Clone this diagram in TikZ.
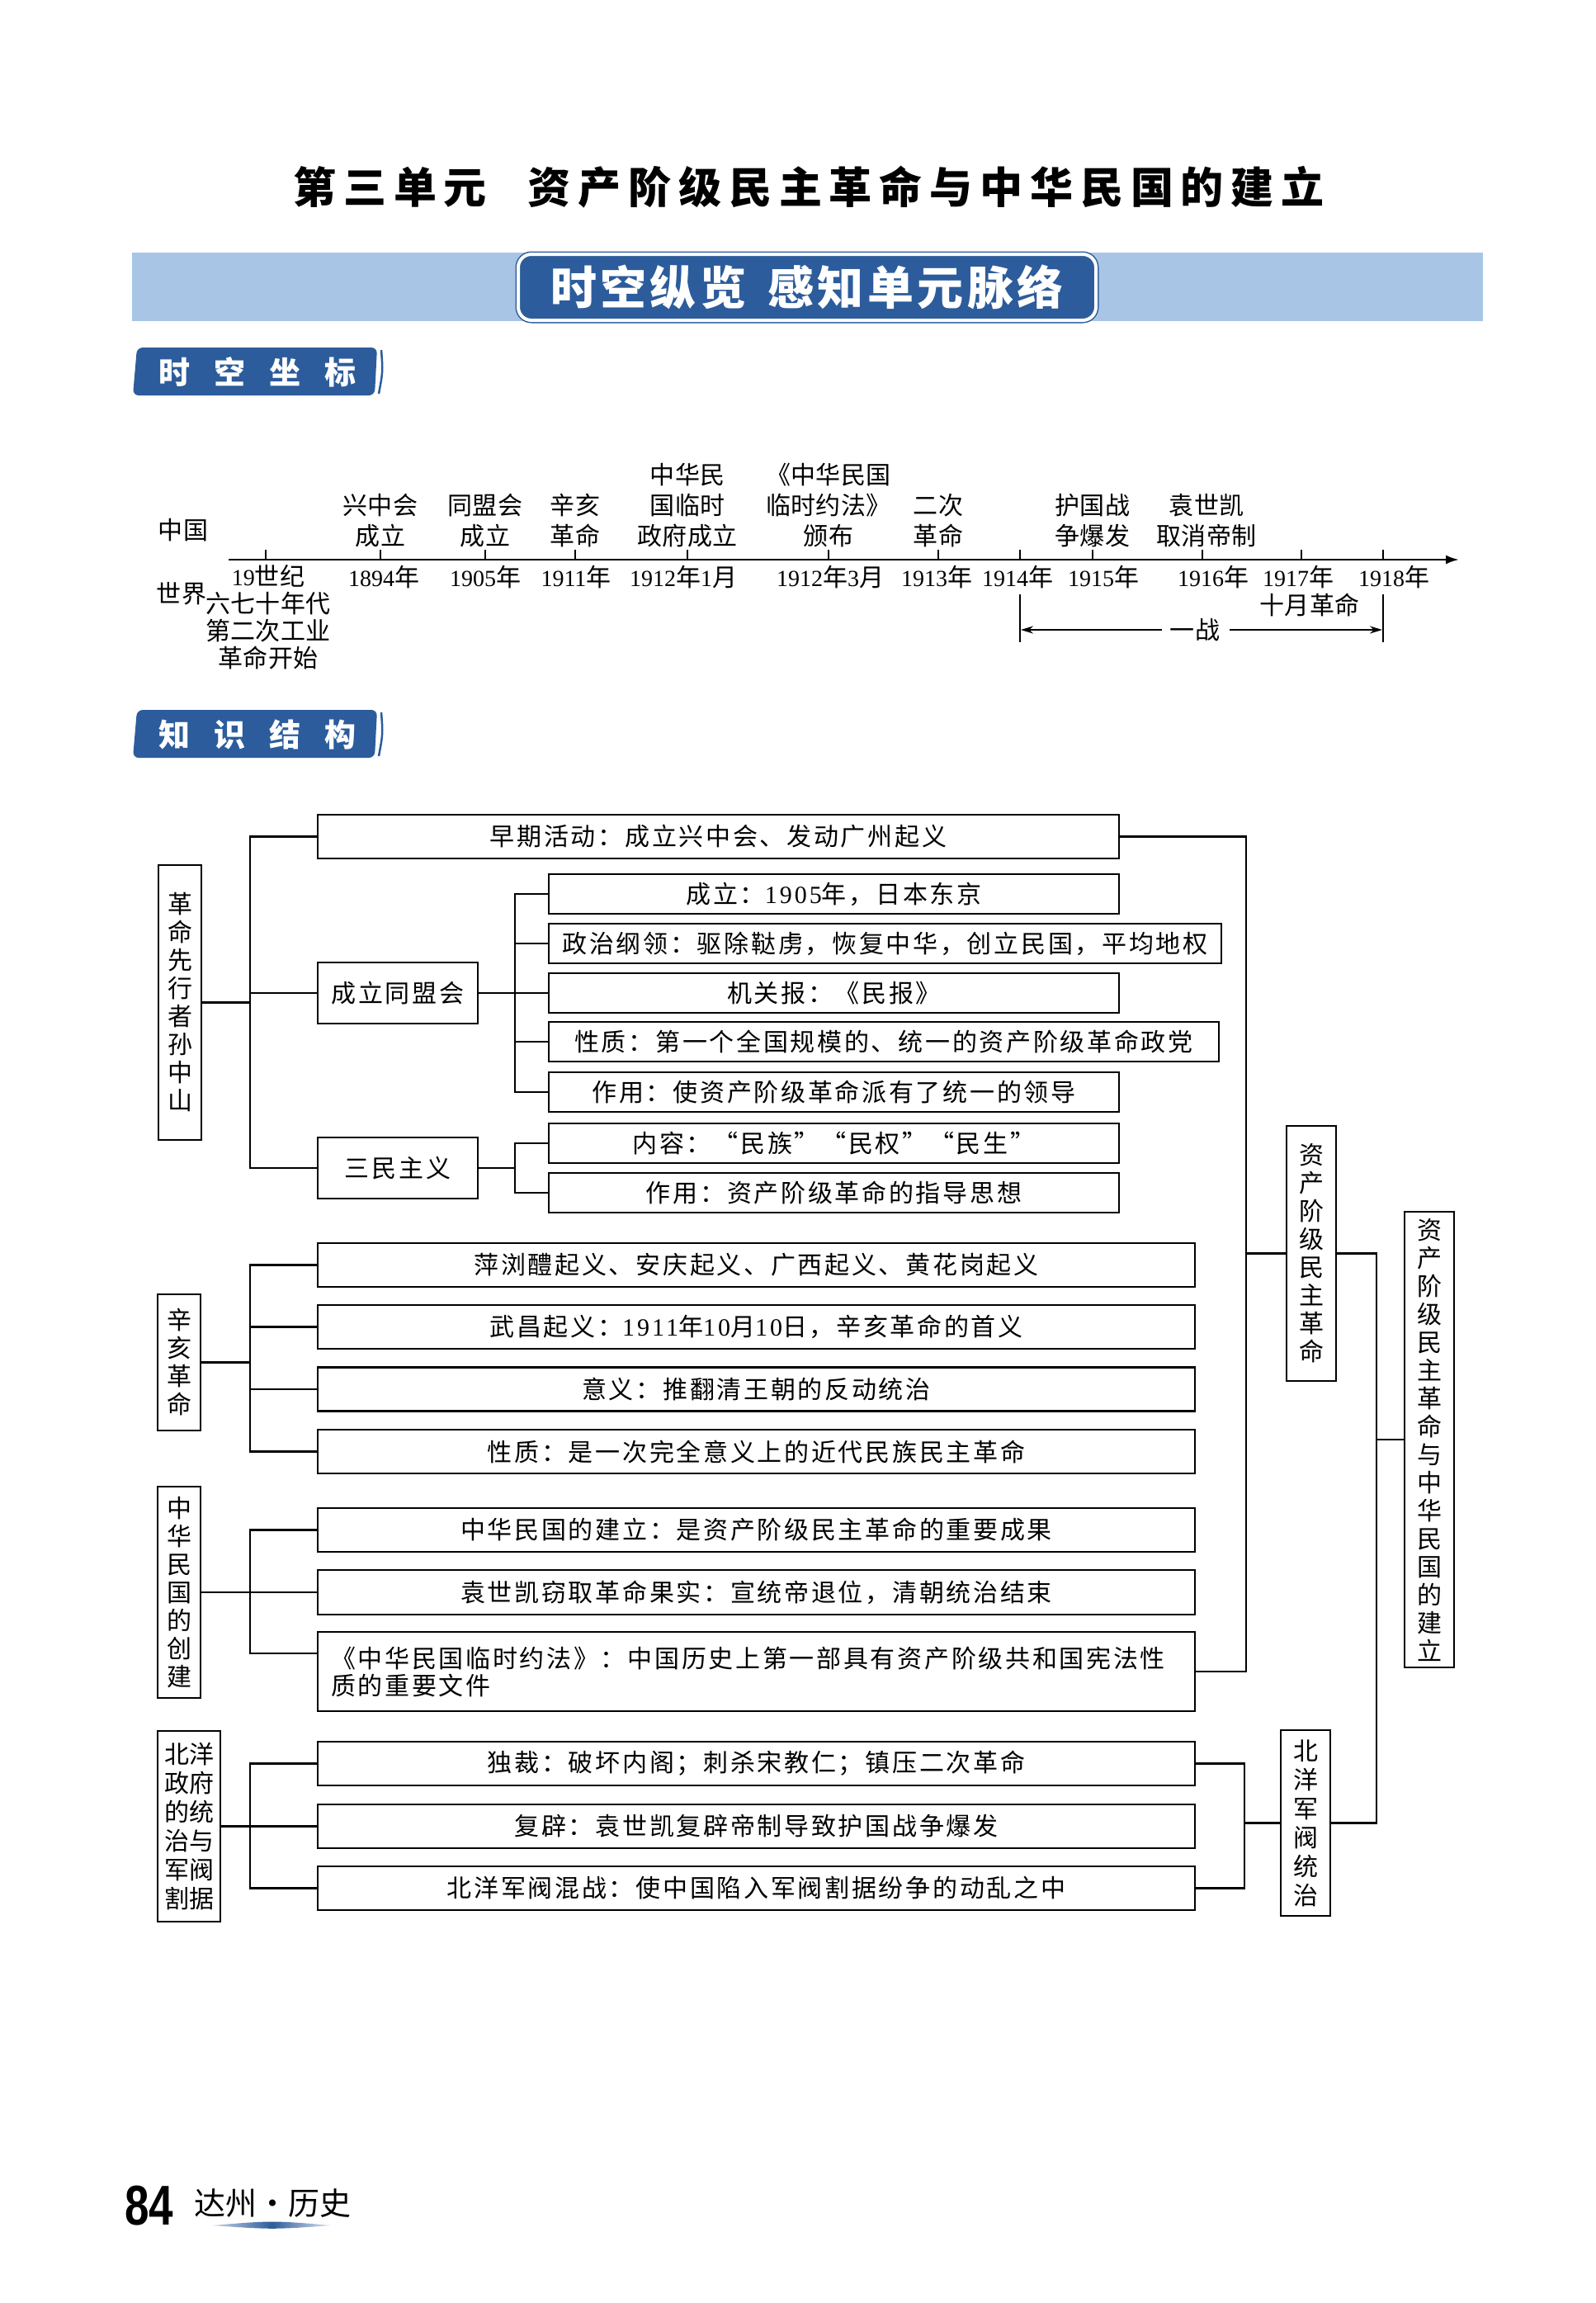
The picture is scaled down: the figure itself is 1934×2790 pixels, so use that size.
\documentclass[tikz,border=0pt]{standalone}
\usepackage{fontspec}
\usetikzlibrary{arrows.meta}
\newfontfamily\cjk{Noto Sans CJK SC}
\newfontfamily\cjkbox[LetterSpace=9]{Noto Sans CJK SC}
\newfontfamily\cjktl[LetterSpace=1]{Noto Sans CJK SC}
\newfontfamily\cjktitle[LetterSpace=17]{Noto Sans CJK SC}
\newfontfamily\cjkban[LetterSpace=8]{Noto Sans CJK SC}
\newfontfamily\lat{Liberation Serif}
\newfontfamily\latb[LetterSpace=10]{Liberation Serif}
\newfontfamily\latsans{Liberation Sans}
\definecolor{dkblue}{RGB}{44,92,155}
\definecolor{ltblue}{RGB}{168,197,230}
\newcommand\nb[1]{{\latb #1}}
\newcommand\nt[1]{{\lat\fontsize{28}{37}\selectfont #1}}
\tikzset{
  bx/.style={draw, line width=2.4pt, inner sep=0pt, font={\cjkbox\fontsize{30}{34}\selectfont}},
  vbx/.style={draw, line width=2.4pt, inner sep=0pt, align=center, font={\cjk\fontsize{30}{34}\selectfont}},
  cn/.style={line width=2.2pt},
  tl/.style={align=center, inner sep=0pt, font={\cjktl\fontsize{30}{37}\selectfont}},
  tlw/.style={align=center, inner sep=0pt, font={\cjktl\fontsize{30}{33}\selectfont}},
  tickline/.style={line width=2pt},
  hdrtext/.style={text=white, inner sep=0pt, font={\cjk\bfseries\fontsize{38}{38}\selectfont}},
}
\begin{document}
\begin{tikzpicture}[x=1pt,y=-1pt]
\fill[white] (0,0) rectangle (1934,2790);
\useasboundingbox (0,0) rectangle (1934,2790);

% ---------- title ----------
\node[inner sep=0pt, font={\cjktitle\bfseries\fontsize{52}{52}\selectfont}] (title) at (980,227)
  {第三单元\hspace{50pt}资产阶级民主革命与中华民国的建立};

% ---------- banner ----------
\fill[ltblue] (160,306) rectangle (1797,389);
\node[fill=dkblue, draw=dkblue, double=white, double distance=4pt, line width=1.5pt,
      rounded corners=16pt, minimum width=700pt, minimum height=80pt, inner sep=0pt,
      text=white, font={\cjkban\bfseries\fontsize{56}{56}\selectfont}] (ban) at (978,348)
  {时空纵览\hspace{26pt}感知单元脉络};

% ---------- section header 1 ----------
\fill[dkblue, rounded corners=7pt] (166,421) -- (457,421) -- (454,479) -- (161,479) -- cycle;
\draw[dkblue, line width=2.5pt] (462,424) .. controls (464,450) .. (459,477);
\node[hdrtext] (h1) at (312,451) {时\kern29pt空\kern29pt坐\kern29pt标};

% ---------- timeline ----------
\coordinate (ax0) at (277,678);
\coordinate (ax1) at (1768,678);
\draw[line width=2.6pt, -{Latex[length=16pt,width=11pt]}] (ax0) -- (ax1);
\foreach \x in {322,461,588,697,833,1004,1137,1236,1324,1457,1577,1676}
  \draw[tickline] (\x,678) -- (\x,666);

\node[tl] (zg) at (222,642) {中国};
\node[tl] (sj) at (220,719) {世界};
\node[tl] (t1) at (461,631) {兴中会\\成立};
\node[tl] (t2) at (588,631) {同盟会\\成立};
\node[tl] (t3) at (697,631) {辛亥\\革命};
\node[tl] (t4) at (833,612) {中华民\\国临时\\政府成立};
\node[tl] (t5) at (1004,612) {《中华民国\\临时约法》\\颁布};
\node[tl] (t6) at (1137,631) {二次\\革命};
\node[tl] (t7) at (1324,631) {护国战\\争爆发};
\node[tl] (t8) at (1462,631) {袁世凯\\取消帝制};

\node[tlw] (w1) at (325,748) {\nt{19}世纪\\六七十年代\\第二次工业\\革命开始};
\node[tl] (y1) at (465,699) {\nt{1894}年};
\node[tl] (y2) at (588,699) {\nt{1905}年};
\node[tl] (y3) at (698,699) {\nt{1911}年};
\node[tl] (y4) at (828,699) {\nt{1912}年\nt{1}月};
\node[tl] (y5) at (1006,699) {\nt{1912}年\nt{3}月};
\node[tl] (y6) at (1135,699) {\nt{1913}年};
\node[tl] (y7) at (1233,699) {\nt{1914}年};
\node[tl] (y8) at (1337,699) {\nt{1915}年};
\node[tl] (y9) at (1470,699) {\nt{1916}年};
\node[tl] (y10) at (1573,699) {\nt{1917}年};
\node[tl] (y11) at (1689,699) {\nt{1918}年};
\node[tl] (oct) at (1587,733) {十月革命};

\coordinate (wsT) at (1236,720); \coordinate (wsB) at (1236,778);
\coordinate (weT) at (1676,720); \coordinate (weB) at (1676,778);
\draw[tickline] (wsT) -- (wsB);
\draw[tickline] (weT) -- (weB);
\node[tl] (yz) at (1448,763) {一战};
\coordinate (wsA) at (1237,763);
\coordinate (weA) at (1675,763);
\draw[line width=2pt, -{Stealth[length=15pt,width=9pt]}] ([xshift=-10pt]yz.west) -- (wsA);
\draw[line width=2pt, -{Stealth[length=15pt,width=9pt]}] ([xshift=12pt]yz.east) -- (weA);

% ---------- section header 2 ----------
\fill[dkblue, rounded corners=7pt] (166,860) -- (457,860) -- (454,918) -- (161,918) -- cycle;
\draw[dkblue, line width=2.5pt] (462,863) .. controls (464,889) .. (459,916);
\node[hdrtext] (h2) at (312,890) {知\kern29pt识\kern29pt结\kern29pt构};

% ---------- knowledge structure: part 1 ----------
\node[vbx, minimum width=52pt, minimum height=333pt] (sun) at (218,1214.5) {革\\命\\先\\行\\者\\孙\\中\\山};
\node[bx, minimum width=971pt, minimum height=53pt] (e1) at (870.5,1013.5) {早期活动：成立兴中会、发动广州起义};
\node[bx, minimum width=194pt, minimum height=74pt] (tmh) at (482,1203) {成立同盟会};
\node[bx, minimum width=691pt, minimum height=48pt] (a1) at (1010.5,1083) {成立：\nb{1905}年，日本东京};
\node[bx, minimum width=815pt, minimum height=48pt] (a2) at (1072.5,1143) {政治纲领：驱除鞑虏，恢复中华，创立民国，平均地权};
\node[bx, minimum width=691pt, minimum height=48pt] (a3) at (1010.5,1203) {机关报：《民报》};
\node[bx, minimum width=812pt, minimum height=48pt] (a4) at (1071,1262) {性质：第一个全国规模的、统一的资产阶级革命政党};
\node[bx, minimum width=691pt, minimum height=48pt] (a5) at (1010.5,1323) {作用：使资产阶级革命派有了统一的领导};
\node[bx, minimum width=194pt, minimum height=74pt] (smzy) at (482,1415) {三民主义};
\node[bx, minimum width=691pt, minimum height=48pt] (b1) at (1010.5,1385) {内容：“民族”“民权”“民生”};
\node[bx, minimum width=691pt, minimum height=48pt] (b2) at (1010.5,1445) {作用：资产阶级革命的指导思想};

\draw[cn] (sun.east) -- ++(58,0) coordinate (j1);
\draw[cn] (j1) |- (e1.west);
\draw[cn] (j1) |- (tmh.west);
\draw[cn] (j1) |- (smzy.west);
\draw[cn] (tmh.east) -- ++(44,0) coordinate (j2);
\foreach \n in {a1,a2,a3,a4,a5} \draw[cn] (j2) |- (\n.west);
\draw[cn] (smzy.east) -- ++(44,0) coordinate (j3);
\foreach \n in {b1,b2} \draw[cn] (j3) |- (\n.west);

% ---------- part 2 ----------
\node[vbx, minimum width=52pt, minimum height=165pt] (xh) at (217,1650.5) {辛\\亥\\革\\命};
\node[bx, minimum width=1063pt, minimum height=53pt] (c1) at (916.5,1532.5) {萍浏醴起义、安庆起义、广西起义、黄花岗起义};
\node[bx, minimum width=1063pt, minimum height=53pt] (c2) at (916.5,1607.5) {武昌起义：\nb{1911}年\nb{10}月\nb{10}日，辛亥革命的首义};
\node[bx, minimum width=1063pt, minimum height=53pt] (c3) at (916.5,1683) {意义：推翻清王朝的反动统治};
\node[bx, minimum width=1063pt, minimum height=53pt] (c4) at (916.5,1758.5) {性质：是一次完全意义上的近代民族民主革命};
\draw[cn] (xh.east) -- ++(59,0) coordinate (j4);
\foreach \n in {c1,c2,c3,c4} \draw[cn] (j4) |- (\n.west);

% ---------- part 3 ----------
\node[vbx, minimum width=52pt, minimum height=256pt] (zh) at (217,1929) {中\\华\\民\\国\\的\\创\\建};
\node[bx, minimum width=1063pt, minimum height=53pt] (d1) at (916.5,1853.5) {中华民国的建立：是资产阶级民主革命的重要成果};
\node[bx, minimum width=1063pt, minimum height=54pt] (d2) at (916.5,1929) {袁世凯窃取革命果实：宣统帝退位，清朝统治结束};
\node[bx, minimum width=1063pt, minimum height=96pt, align=left, text width=1031pt, inner xsep=16pt,
      font={\cjkbox\fontsize{30}{33}\selectfont}] (d3) at (916.5,2025)
  {《中华民国临时约法》：中国历史上第一部具有资产阶级共和国宪法性\\质的重要文件};
\draw[cn] (zh.east) -- ++(59,0) coordinate (j5);
\draw[cn] (j5) |- (d1.west);
\draw[cn] (j5) |- (d2.west);
\draw[cn] (j5) |- ([yshift=22pt]d3.west);

% ---------- part 4 ----------
\node[vbx, minimum width=76pt, minimum height=231pt, font={\cjk\fontsize{30}{35}\selectfont}] (by) at (229,2212.5)
  {北洋\\政府\\的统\\治与\\军阀\\割据};
\node[bx, minimum width=1063pt, minimum height=53pt] (f1) at (916.5,2136.5) {独裁：破坏内阁；刺杀宋教仁；镇压二次革命};
\node[bx, minimum width=1063pt, minimum height=53pt] (f2) at (916.5,2212.5) {复辟：袁世凯复辟帝制导致护国战争爆发};
\node[bx, minimum width=1063pt, minimum height=53pt] (f3) at (916.5,2287.5) {北洋军阀混战：使中国陷入军阀割据纷争的动乱之中};
\draw[cn] (by.east) -- ++(35,0) coordinate (j6);
\foreach \n in {f1,f2,f3} \draw[cn] (j6) |- (\n.west);

% ---------- right side ----------
\node[vbx, minimum width=60pt, minimum height=309pt] (zcj) at (1589,1518.5) {资\\产\\阶\\级\\民\\主\\革\\命};
\node[vbx, minimum width=60pt, minimum height=225pt, font={\cjk\fontsize{30}{35}\selectfont}] (bygov) at (1582,2208.5) {北\\洋\\军\\阀\\统\\治};
\node[vbx, minimum width=60pt, minimum height=552pt] (big) at (1732,1744)
  {资\\产\\阶\\级\\民\\主\\革\\命\\与\\中\\华\\民\\国\\的\\建\\立};

\coordinate (r1) at (1510,1518.5);
\draw[cn] (e1.east) -| (r1) -- (zcj.west);
\draw[cn] (d3.east) -| (r1);
\coordinate (r3) at (1508,2208.5);
\draw[cn] (f1.east) -| (r3) -- (bygov.west);
\draw[cn] (f3.east) -| (r3);
\coordinate (r2) at (1668,1744);
\draw[cn] (zcj.east) -| (r2) -- (big.west);
\draw[cn] (bygov.east) -| (r2);

% ---------- footer ----------
\node[inner sep=0pt, font={\latsans\bfseries\fontsize{68}{68}\selectfont}] (pg) at (181,2672) {\scalebox{0.78}[1]{84}};
\node[inner sep=0pt, font={\cjk\fontsize{38}{38}\selectfont}] (dz) at (330,2669) {达州・历史};
\shade[left color=dkblue!25, right color=dkblue!15, middle color=dkblue]
  (257,2696) .. controls (330,2690) .. (402,2696) .. controls (330,2701) .. (257,2696) -- cycle;
\end{tikzpicture}
\end{document}
